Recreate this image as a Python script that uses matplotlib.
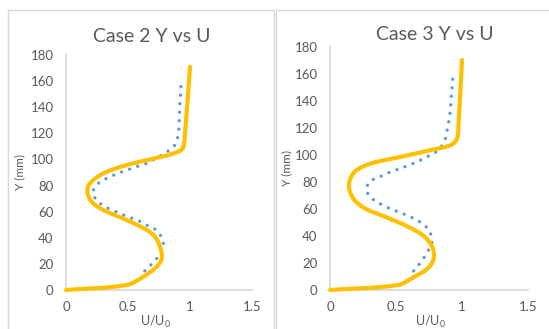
import matplotlib
matplotlib.use("Agg")
import numpy as np
import matplotlib.pyplot as plt
from matplotlib.patches import Rectangle, PathPatch
from matplotlib.path import Path

plt.rcParams['font.family'] = ['Lato', 'DejaVu Sans']

# Case 2: measured profile (blue, dotted) and model profile (orange)
case2_meas_u = [0.927, 0.924, 0.919, 0.916, 0.914, 0.911, 0.903, 0.884, 0.840, 0.780,
                0.720, 0.664, 0.599, 0.538, 0.476, 0.414, 0.352, 0.293, 0.240, 0.218,
                0.248, 0.301, 0.360, 0.422, 0.484, 0.546, 0.607, 0.664, 0.726, 0.766,
                0.785, 0.770, 0.731, 0.683, 0.637, 0.589]
case2_meas_y = [155.8, 149.7, 143.6, 137.2, 130.8, 124.4, 118.0, 112.0, 107.6, 103.9,
                100.6, 97.5, 95.5, 93.4, 91.4, 89.1, 86.6, 83.7, 79.9, 74.3,
                68.7, 64.6, 61.8, 59.2, 56.7, 54.4, 52.1, 49.0, 46.0, 41.1,
                35.5, 29.5, 24.0, 19.1, 14.8, 10.7]
case2_model_u = [0.0, 0.489, 0.624, 0.731, 0.772, 0.758, 0.718, 0.651,
                 0.489, 0.301, 0.207, 0.172, 0.194, 0.301, 0.489, 0.677, 0.866, 0.940,
                 0.958, 1.0]
case2_model_y = [0.0, 3.8, 10.2, 17.9, 24.3, 33.2, 40.8, 46.0,
                 53.6, 61.3, 67.6, 75.3, 81.7, 89.3, 95.7, 100.0, 104.6, 108.5,
                 118.0, 171.0]

# Case 3: measured profile (blue, dotted) and model profile (orange)
case3_meas_u = [0.930, 0.925, 0.920, 0.915, 0.910, 0.902, 0.889, 0.879, 0.854, 0.817,
                0.764, 0.709, 0.651, 0.593, 0.535, 0.477, 0.420, 0.364, 0.307, 0.276,
                0.302, 0.352, 0.407, 0.462, 0.520, 0.578, 0.633, 0.686, 0.736, 0.766,
                0.771, 0.744, 0.711, 0.676, 0.638, 0.595]
case3_meas_y = [155.9, 149.9, 143.8, 137.6, 131.4, 125.5, 119.4, 113.4, 107.8, 103.1,
                100.1, 97.2, 94.5, 92.2, 90.0, 88.0, 85.8, 83.1, 80.6, 74.7,
                69.0, 65.4, 62.4, 59.9, 57.7, 55.5, 53.0, 50.1, 45.9, 40.4,
                34.5, 29.1, 23.9, 19.0, 14.5, 10.6]
case3_model_u = [0.0, 0.515, 0.641, 0.741, 0.786, 0.774, 0.716, 0.590, 0.415, 0.264,
                 0.176, 0.143, 0.188, 0.314, 0.540, 0.766, 0.917, 0.962, 0.975, 1.0]
case3_model_y = [0.0, 3.7, 9.9, 16.0, 23.4, 32.0, 39.5, 46.9, 54.3, 60.4,
                 67.8, 77.7, 87.5, 93.7, 98.6, 103.6, 107.3, 112.0, 125.0, 170.2]

titles = ["Case 2 Y vs U", "Case 3 Y vs U"]
x_ticks = [0, 0.5, 1, 1.5]
x_tick_labels = ["0", "0.5", "1", "1.5"]
y_ticks = [0, 20, 40, 60, 80, 100, 120, 140, 160, 180]

BLUE = "#5B9BD5"
ORANGE = "#FFC000"
GRID = "#D9D9D9"
TEXT = "#595959"


def smooth_path(xs, ys, sx, sy):
    """Smooth cubic Bezier path through the points.

    Tangents follow the neighbouring points but are sized by the length of
    each segment (measured with the screen scale sx, sy), so short segments
    next to long ones do not overshoot.
    """
    p = np.column_stack([np.asarray(xs, float) * sx, np.asarray(ys, float) * sy])
    n = len(p)
    seg = np.linalg.norm(np.diff(p, axis=0), axis=1)
    tang = np.zeros_like(p)
    for i in range(n):
        a = p[max(i - 1, 0)]
        b = p[min(i + 1, n - 1)]
        d = b - a
        nd = np.linalg.norm(d)
        tang[i] = d / nd if nd > 0 else 0
    verts = [p[0]]
    codes = [Path.MOVETO]
    for i in range(n - 1):
        L = seg[i] / 3.0
        verts += [p[i] + tang[i] * L, p[i + 1] - tang[i + 1] * L, p[i + 1]]
        codes += [Path.CURVE4] * 3
    verts = np.array(verts)
    verts[:, 0] /= sx
    verts[:, 1] /= sy
    return Path(verts, codes)


W, H = 549, 329
fig = plt.figure(figsize=(W / 100, H / 100), dpi=100)

# chart frames
for x0, x1 in [(7.5, 274.0), (275.5, 560.0)]:
    fig.patches.append(Rectangle((x0 / W, -0.1), (x1 - x0) / W, 1.1 - 10.5 / H,
                                 transform=fig.transFigure, fill=False,
                                 edgecolor=GRID, linewidth=1.0))

panels = [
    dict(rect=(66, 252, 290, 55), meas=(case2_meas_u, case2_meas_y),
         model=(case2_model_u, case2_model_y), title_xy=(152, 37), ylab_x=20, xlab_x=155),
    dict(rect=(330, 528, 290, 46.7), meas=(case3_meas_u, case3_meas_y),
         model=(case3_model_u, case3_model_y), title_xy=(435, 35), ylab_x=287, xlab_x=430),
]

for p, title in zip(panels, titles):
    xl, xr, yb, yt = p["rect"]
    ax = fig.add_axes([xl / W, 1 - yb / H, (xr - xl) / W, (yb - yt) / H])
    sx = (xr - xl) / 1.5
    sy = (yb - yt) / 180.0
    mu, my = p["meas"]
    ax.add_patch(PathPatch(smooth_path(mu, my, sx, sy), fill=False, edgecolor=BLUE,
                           lw=2.4, linestyle=(0, (0.01, 2.55)), capstyle='round',
                           zorder=2))
    gu, gy = p["model"]
    ax.add_patch(PathPatch(smooth_path(gu, gy, sx, sy), fill=False, edgecolor=ORANGE,
                           lw=3.0, joinstyle='round', capstyle='round', zorder=3))
    ax.set_xlim(0, 1.5)
    ax.set_ylim(0, 180)
    ax.set_xticks(x_ticks)
    ax.set_xticklabels(x_tick_labels)
    ax.set_yticks(y_ticks)
    for s in ["top", "right"]:
        ax.spines[s].set_visible(False)
    for s in ["left", "bottom"]:
        ax.spines[s].set_color(GRID)
        ax.spines[s].set_linewidth(1.3)
        ax.spines[s].set_zorder(1)
    ax.tick_params(length=0, labelsize=9.5, labelcolor=TEXT)
    ax.tick_params(axis='y', pad=9)
    ax.tick_params(axis='x', pad=8)
    ax.patch.set_alpha(0)
    for art in ax.patches:
        art.set_clip_on(False)
    tx, ty = p["title_xy"]
    fig.text(tx / W, 1 - ty / H, title, ha='center', va='center',
             fontsize=14, color=TEXT)
    fig.text(p["ylab_x"] / W, 1 - ((yb + yt) / 2) / H, "Y (mm)", rotation=90,
             ha='center', va='center', fontsize=8.5, color=TEXT)
    fig.text(p["xlab_x"] / W, 1 - 322 / H, r"U/U$_\mathregular{0}$", ha='center',
             va='center', fontsize=9, color=TEXT)

fig.savefig("out.png", dpi=100)
